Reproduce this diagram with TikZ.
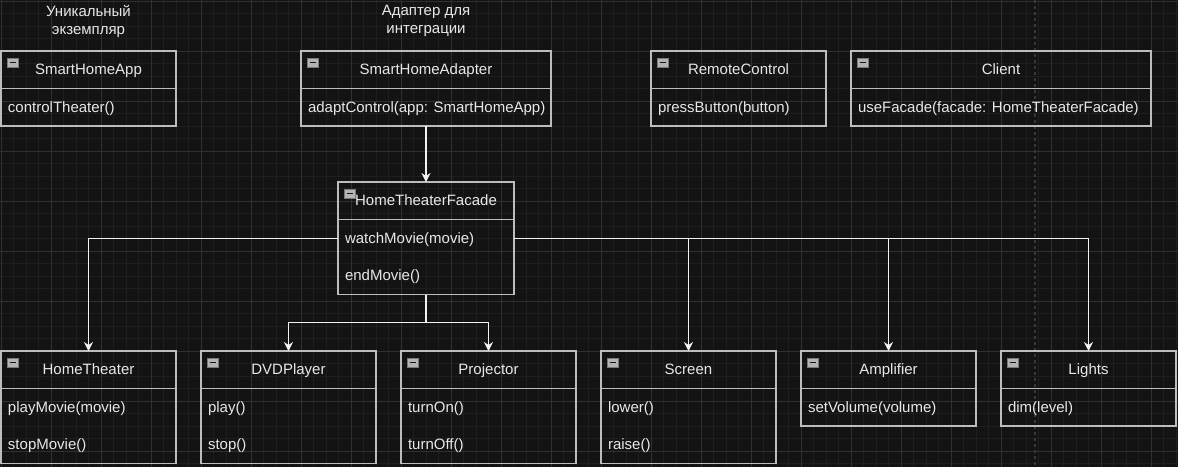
\documentclass[tikz,border=0pt]{standalone}
\usepackage{fontspec}
\setmainfont{Liberation Sans}
\usetikzlibrary{arrows.meta}
\definecolor{canvas}{HTML}{131313}
\definecolor{gminor}{HTML}{1E1E1E}
\definecolor{gmajor}{HTML}{303030}
\definecolor{edge}{HTML}{BDBDBD}
\definecolor{fg}{HTML}{E8E8E8}
\definecolor{wire}{HTML}{F2F2F2}
\definecolor{icofill}{HTML}{B4B4B4}
\definecolor{icoedge}{HTML}{7A7A7A}
\definecolor{icominus}{HTML}{1A1A1A}
\definecolor{pageline}{HTML}{383838}

\begin{document}
\begin{tikzpicture}[x=1pt, y=-1pt,
    font=\fontsize{15}{18}\selectfont,
    every node/.style={text=fg, inner sep=0pt, outer sep=0pt},
    head/.style={draw=edge, line width=1.3pt, anchor=north west, minimum height=37.5pt,
      text height=13.6pt, text depth=3.2pt,
      path picture={
        \filldraw[draw=icoedge, fill=icofill, line width=0.6pt]
          ([shift={(6pt,-7pt)}]path picture bounding box.north west) rectangle +(11pt,-9pt);
        \draw[icominus, line width=1.5pt]
          ([shift={(8.5pt,-11.5pt)}]path picture bounding box.north west) -- +(6pt,0pt);
      }},
    body/.style={draw=edge, line width=1.3pt, anchor=north west},
    row/.style={anchor=west, text height=13.6pt, text depth=3.2pt},
    note/.style={align=center},
    link/.style={draw=wire, line width=1.2pt, -{Stealth[length=9pt, width=9pt, inset=3pt]}}
  ]
  \useasboundingbox (0,0) rectangle (1178,467);
  \fill[canvas] (0,0) rectangle (1178,467);

  % grid
  \foreach \i in {0,...,94} {
    \draw[gminor, line width=0.8pt] ({1+12.5*\i},0) -- ({1+12.5*\i},467);
  }
  \foreach \i in {0,...,37} {
    \draw[gminor, line width=0.8pt] (0,{1+12.5*\i}) -- (1178,{1+12.5*\i});
  }
  \foreach \i in {0,...,23} {
    \draw[gmajor, line width=0.9pt] ({1+50*\i},0) -- ({1+50*\i},467);
  }
  \foreach \i in {0,...,9} {
    \draw[gmajor, line width=0.9pt] (0,{1+50*\i}) -- (1178,{1+50*\i});
  }
  \draw[pageline, line width=1.3pt, dash pattern=on 3pt off 3pt] (1035,0) -- (1035,467);

  % notes
  \node[note] (applabel) at (88.5,21) {Уникальный\\экземпляр};
  \node[note] (adalabel) at (426,21) {Адаптер для\\интеграции};

  % top row
  \node[head, minimum width=175pt] (app) at (1,51) {SmartHomeApp};
  \node[body, minimum width=175pt, minimum height=37.5pt] (appb) at (app.south west) {};
  \node[row] (app1) at ([shift={(7,18.75)}]appb.north west) {controlTheater()};

  \node[head, minimum width=250pt] (ada) at (301,51) {SmartHomeAdapter};
  \node[body, minimum width=250pt, minimum height=37.5pt] (adab) at (ada.south west) {};
  \node[row] (ada1) at ([shift={(7,18.75)}]adab.north west) {adaptControl(app: SmartHomeApp)};

  \node[head, minimum width=175pt] (rc) at (651,51) {RemoteControl};
  \node[body, minimum width=175pt, minimum height=37.5pt] (rcb) at (rc.south west) {};
  \node[row] (rc1) at ([shift={(7,18.75)}]rcb.north west) {pressButton(button)};

  \node[head, minimum width=300pt] (cli) at (851,51) {Client};
  \node[body, minimum width=300pt, minimum height=37.5pt] (clib) at (cli.south west) {};
  \node[row] (cli1) at ([shift={(7,18.75)}]clib.north west) {useFacade(facade: HomeTheaterFacade)};

  % facade
  \node[head, minimum width=176pt] (fac) at (338,182) {HomeTheaterFacade};
  \node[body, minimum width=176pt, minimum height=75pt] (facb) at (fac.south west) {};
  \node[row] (fac1) at ([shift={(7,18.75)}]facb.north west) {watchMovie(movie)};
  \node[row] (fac2) at ([shift={(7,56.25)}]facb.north west) {endMovie()};

  % bottom row
  \node[head, minimum width=175pt] (ht) at (1,351) {HomeTheater};
  \node[body, minimum width=175pt, minimum height=75pt] (htb) at (ht.south west) {};
  \node[row] (ht1) at ([shift={(7,18.75)}]htb.north west) {playMovie(movie)};
  \node[row] (ht2) at ([shift={(7,56.25)}]htb.north west) {stopMovie()};

  \node[head, minimum width=175pt] (dvd) at (201,351) {DVDPlayer};
  \node[body, minimum width=175pt, minimum height=75pt] (dvdb) at (dvd.south west) {};
  \node[row] (dvd1) at ([shift={(7,18.75)}]dvdb.north west) {play()};
  \node[row] (dvd2) at ([shift={(7,56.25)}]dvdb.north west) {stop()};

  \node[head, minimum width=175pt] (proj) at (401,351) {Projector};
  \node[body, minimum width=175pt, minimum height=75pt] (projb) at (proj.south west) {};
  \node[row] (proj1) at ([shift={(7,18.75)}]projb.north west) {turnOn()};
  \node[row] (proj2) at ([shift={(7,56.25)}]projb.north west) {turnOff()};

  \node[head, minimum width=175pt] (scr) at (601,351) {Screen};
  \node[body, minimum width=175pt, minimum height=75pt] (scrb) at (scr.south west) {};
  \node[row] (scr1) at ([shift={(7,18.75)}]scrb.north west) {lower()};
  \node[row] (scr2) at ([shift={(7,56.25)}]scrb.north west) {raise()};

  \node[head, minimum width=175pt] (amp) at (801,351) {Amplifier};
  \node[body, minimum width=175pt, minimum height=37.5pt] (ampb) at (amp.south west) {};
  \node[row] (amp1) at ([shift={(7,18.75)}]ampb.north west) {setVolume(volume)};

  \node[head, minimum width=175pt] (lig) at (1001,351) {Lights};
  \node[body, minimum width=175pt, minimum height=37.5pt] (ligb) at (lig.south west) {};
  \node[row] (lig1) at ([shift={(7,18.75)}]ligb.north west) {dim(level)};

  % connectors
  \draw[link] (adab.south) -- (fac.north);
  \coordinate (split) at ([yshift=-28pt]facb.south);
  \draw[link] (facb.south) -- (split) -| (dvd.north);
  \draw[link] (split) -| (proj.north);
  \draw[link] (fac1 -| facb.west) -| (ht.north);
  \draw[link] (fac1 -| facb.east) -| (scr.north);
  \draw[link] (fac1 -| facb.east) -| (amp.north);
  \draw[link] (fac1 -| facb.east) -| (lig.north);
\end{tikzpicture}
\end{document}
